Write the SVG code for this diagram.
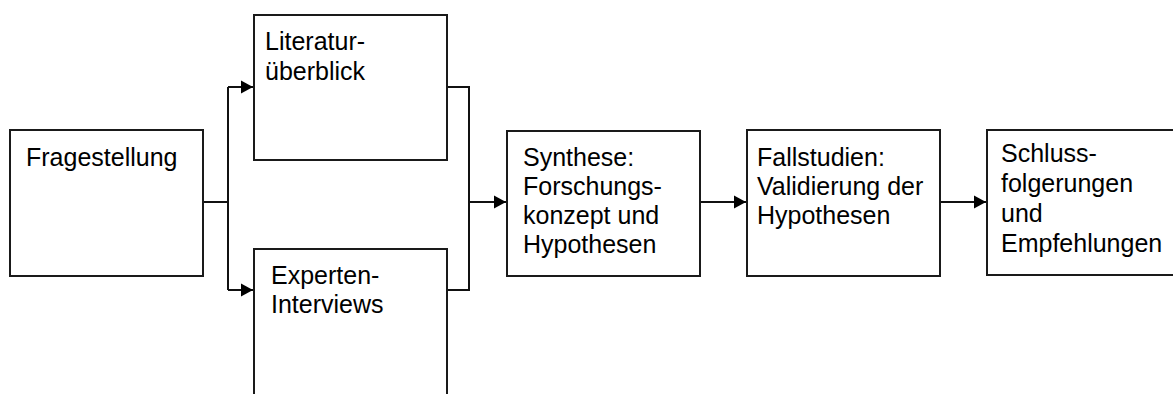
<svg xmlns="http://www.w3.org/2000/svg" width="1173" height="394" viewBox="0 0 1173 394">
  <defs>
    <marker id="arrow" markerWidth="12" markerHeight="14" refX="12" refY="7" orient="auto" markerUnits="userSpaceOnUse">
      <path d="M0,0.5 L12,7 L0,13.5 Z" fill="#000"/>
    </marker>
    <style>
      .box { fill: #fff; stroke: #1a1a1a; stroke-width: 2; }
      .lbl { font-family: "Liberation Sans", Arial, sans-serif; font-size: 25px; fill: #000; }
      .wire { fill: none; stroke: #111; stroke-width: 2; }
    </style>
  </defs>
  <rect width="1173" height="394" fill="#fff"/>

  <g id="connectors">
    <!-- split from the question to both inputs -->
    <path class="wire" d="M203,202 H228"/>
    <path class="wire" d="M228,87 V290"/>
    <path class="wire" d="M228,87 H253" marker-end="url(#arrow)"/>
    <path class="wire" d="M228,290 H253" marker-end="url(#arrow)"/>
    <!-- merge into synthesis -->
    <path class="wire" d="M447,87 H469 V290 H447"/>
    <path class="wire" d="M469,202 H506" marker-end="url(#arrow)"/>
    <path class="wire" d="M700,202 H746" marker-end="url(#arrow)"/>
    <path class="wire" d="M940,202 H986" marker-end="url(#arrow)"/>
  </g>

  <g id="fragestellung">
    <rect class="box" x="10" y="130" width="193" height="146"/>
    <text class="lbl" x="26" y="166">Fragestellung</text>
  </g>

  <g id="literatur">
    <rect class="box" x="254" y="15" width="193" height="145"/>
    <text class="lbl" x="265" y="50">Literatur-</text>
    <text class="lbl" x="265" y="80">überblick</text>
  </g>

  <g id="experten">
    <rect class="box" x="254" y="249" width="193" height="160"/>
    <text class="lbl" x="271" y="284">Experten-</text>
    <text class="lbl" x="271" y="313">Interviews</text>
  </g>

  <g id="synthese">
    <rect class="box" x="507" y="131" width="193" height="145"/>
    <text class="lbl" x="523" y="166">Synthese:</text>
    <text class="lbl" x="523" y="195">Forschungs-</text>
    <text class="lbl" x="523" y="224">konzept und</text>
    <text class="lbl" x="523" y="253">Hypothesen</text>
  </g>

  <g id="fallstudien">
    <rect class="box" x="747" y="130" width="193" height="146"/>
    <text class="lbl" x="757" y="166">Fallstudien:</text>
    <text class="lbl" x="757" y="195">Validierung der</text>
    <text class="lbl" x="757" y="224">Hypothesen</text>
  </g>

  <g id="schluss">
    <rect class="box" x="987" y="130" width="200" height="145"/>
    <text class="lbl" x="1001" y="162">Schluss-</text>
    <text class="lbl" x="1001" y="192">folgerungen</text>
    <text class="lbl" x="1001" y="222">und</text>
    <text class="lbl" x="1001" y="252">Empfehlungen</text>
  </g>
</svg>
